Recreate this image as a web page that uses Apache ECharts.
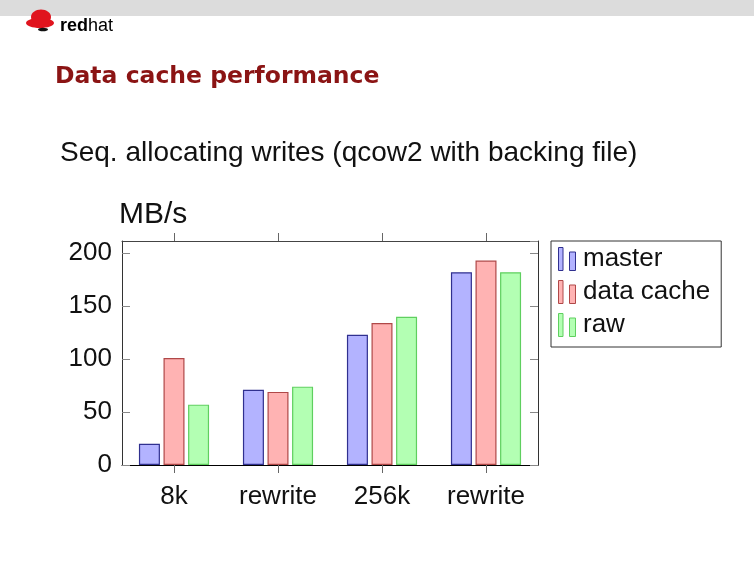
<!DOCTYPE html>
<html>
<head>
<meta charset="utf-8">
<script src="https://cdn.jsdelivr.net/npm/echarts@6/dist/echarts.min.js"></script>
<style>
  html, body { margin: 0; padding: 0; background: #ffffff; }
  #chart { width: 754px; height: 566px; }
</style>
</head>
<body>
<div id="chart"></div>
<script>
// ---- data ----
const categories = ['8k', 'rewrite', '256k', 'rewrite'];
const seriesNames = ['master', 'data cache', 'raw'];
const masterValues = [20, 71, 123, 182];
const dataCacheValues = [101, 69, 134, 193];
const rawValues = [57, 74, 140, 182];
const yTicks = [0, 50, 100, 150, 200];

const FONT = 'Liberation Sans';
const chart = echarts.init(document.getElementById('chart'), null, { renderer: 'canvas' });

const fills = ['#b3b3ff', '#ffb3b3', '#b3ffb3'];
const borders = ['#30308f', '#b04848', '#5fcf5f'];
const values = [masterValues, dataCacheValues, rawValues];

const legendIcon = 'path://M0,0h4.5v23h-4.5z M11,4.5h6v18.5h-6z';

const option = {
  animation: false,
  backgroundColor: '#ffffff',
  textStyle: { fontFamily: FONT },
  graphic: [
    { type: 'rect', left: 0, top: 0, shape: { x: 0, y: 0, width: 754, height: 16 }, style: { fill: '#dcdcdc' }, silent: true },
    // logo hat
    { type: 'ellipse', shape: { cx: 40, cy: 23, rx: 14, ry: 5 }, style: { fill: '#e0141e' }, silent: true },
    { type: 'ellipse', shape: { cx: 41, cy: 17, rx: 10, ry: 7.5 }, style: { fill: '#e0141e' }, silent: true },
    { type: 'ellipse', shape: { cx: 43, cy: 29.5, rx: 5, ry: 1.8 }, style: { fill: '#111111' }, silent: true },
    {
      type: 'text', left: 60, top: 17,
      style: {
        text: '{b|red}{n|hat}',
        rich: {
          b: { fontFamily: FONT, fontSize: 18, fontWeight: 'bold', fill: '#000' },
          n: { fontFamily: FONT, fontSize: 18, fill: '#000' }
        }
      }, silent: true
    },
    {
      type: 'text', x: 55, y: 76.5,
      style: { text: 'Data cache performance', fontFamily: 'DejaVu Sans', fontWeight: 'bold', fontSize: 23.5, fill: '#8b1414', verticalAlign: 'middle', align: 'left' },
      silent: true
    },
    {
      type: 'text', x: 60, y: 153,
      style: { text: 'Seq. allocating writes (qcow2 with backing file)', fontFamily: FONT, fontSize: 28, fill: '#111', verticalAlign: 'middle', align: 'left' },
      silent: true
    }
  ],
  legend: {
    orient: 'vertical',
    left: 551, top: 241,
    data: seriesNames,
    icon: legendIcon,
    itemWidth: 18, itemHeight: 23, itemGap: 7,
    borderColor: '#333', borderWidth: 1, borderRadius: 0,
    padding: [5, 11, 9, 7],
    itemStyle: { borderWidth: 1 },
    textStyle: { fontFamily: FONT, fontSize: 26, color: '#111', lineHeight: 17, padding: [7, 0, 0, 2] },
    selectedMode: false
  },
  grid: { left: 122, top: 241, width: 416, height: 224, containLabel: false },
  xAxis: [
    {
      type: 'category', data: categories, position: 'bottom',
      axisLine: { show: true, onZero: false, lineStyle: { color: '#000', width: 1 } },
      axisTick: { show: true, alignWithLabel: true, inside: false, length: 8, lineStyle: { color: '#666' } },
      axisLabel: { fontFamily: FONT, fontSize: 26, color: '#111', margin: 19 },
      splitLine: { show: false }
    },
    {
      type: 'category', data: categories, position: 'top',
      axisLine: { show: true, onZero: false, lineStyle: { color: '#444', width: 1 } },
      axisTick: { show: true, alignWithLabel: true, inside: false, length: 8, lineStyle: { color: '#666' } },
      axisLabel: { show: false },
      splitLine: { show: false }
    }
  ],
  yAxis: [
    {
      type: 'value', min: 0, max: 211.5, interval: 50, position: 'left',
      name: 'MB/s', nameLocation: 'end', nameGap: 26,
      nameTextStyle: { fontFamily: FONT, fontSize: 30, color: '#111', align: 'left', verticalAlign: 'middle', padding: [0, 0, 0, -3] },
      axisLine: { show: true, lineStyle: { color: '#333', width: 1 } },
      axisTick: { show: true, inside: true, length: 8, lineStyle: { color: '#888' } },
      axisLabel: {
        fontFamily: FONT, fontSize: 26, color: '#111', margin: 10, showMaxLabel: false,
        formatter: v => (yTicks.indexOf(v) >= 0 ? String(v) : '')
      },
      splitLine: { show: false }
    },
    {
      type: 'value', min: 0, max: 211.5, interval: 50, position: 'right',
      axisLine: { show: true, lineStyle: { color: '#333', width: 1 } },
      axisTick: { show: true, inside: true, length: 8, lineStyle: { color: '#888' } },
      axisLabel: { show: false },
      splitLine: { show: false }
    }
  ],
  series: seriesNames.map((name, i) => ({
    name: name,
    type: 'bar',
    xAxisIndex: 0, yAxisIndex: 0,
    data: values[i],
    barWidth: 21,
    barGap: '17%',
    itemStyle: { color: fills[i], borderColor: borders[i], borderWidth: 1.2 },
    emphasis: { disabled: true }
  }))
};

chart.setOption(option);
</script>
</body>
</html>
